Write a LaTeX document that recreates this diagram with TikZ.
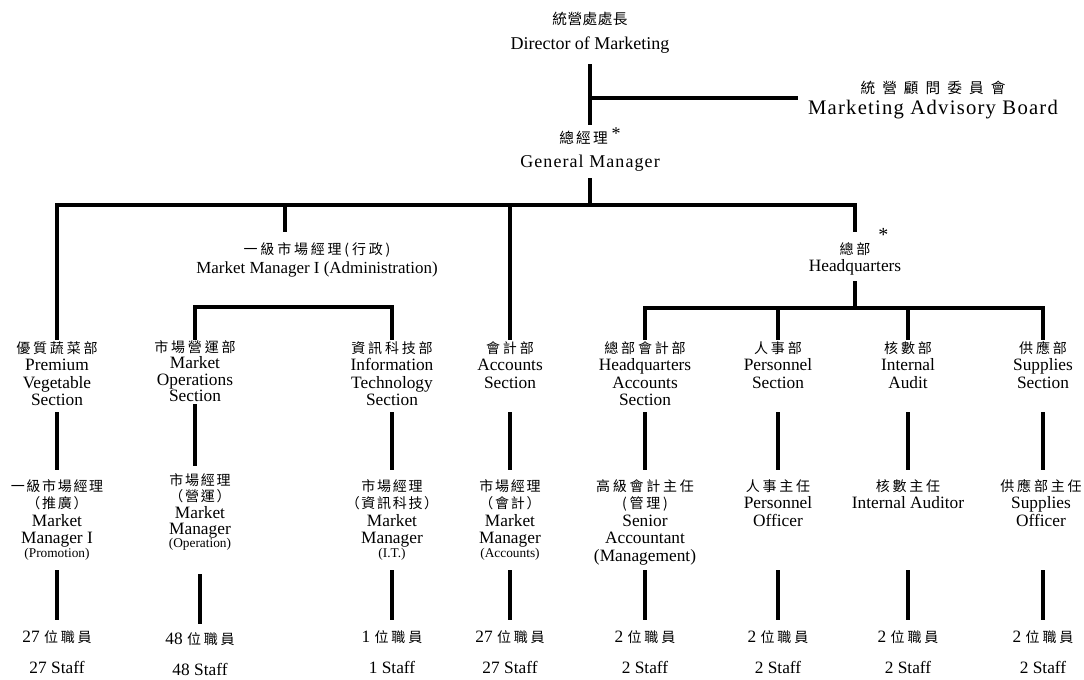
\documentclass[tikz,border=0pt]{standalone}
\usepackage{fontspec}
\setmainfont{Liberation Serif}
\newfontfamily\serifwide[LetterSpace=6]{Liberation Serif}
\newfontfamily\serifgm[LetterSpace=6]{Liberation Serif}
\newfontfamily\cjkA[LetterSpace=3]{Noto Sans CJK TC}
\newfontfamily\cjkB[LetterSpace=48]{Noto Sans CJK TC}
\newfontfamily\cjkG[LetterSpace=15]{Noto Sans CJK TC}
\newfontfamily\cjkC[LetterSpace=20]{Noto Sans CJK TC}
\newfontfamily\cjkD[LetterSpace=12]{Noto Sans CJK TC}
\newcommand\zhA[1]{{\cjkA\fontsize{11}{13}\selectfont #1}}
\newcommand\zhB[1]{{\cjkB\fontsize{11}{13}\selectfont #1}}
\newcommand\zhG[1]{{\cjkG\fontsize{11}{13}\selectfont #1}}
\newcommand\zhC[1]{{\cjkC\fontsize{10.5}{13}\selectfont #1}}
\newcommand\zhD[1]{{\cjkD\fontsize{10.5}{13}\selectfont #1}}
\newcommand\smallpar[1]{{\fontsize{10}{10}\selectfont #1}}
\usetikzlibrary{calc}
\begin{document}
\begin{tikzpicture}[x=0.75pt,y=-0.75pt,
  conn/.style={line width=2.4pt},
  box/.style={inner sep=0pt,align=center,anchor=north},
  toplbl/.style={box,font=\fontsize{13.5}{18.3}\selectfont},
  sect/.style={box,font=\fontsize{13}{13.2}\selectfont},
  sectn/.style={box,font=\fontsize{13}{12.4}\selectfont},
  staff/.style={box,font=\fontsize{13}{23.6}\selectfont}]
\useasboundingbox (0,0) rectangle (1084,679);

% top level
\node[toplbl] (dir) at (590,12) {\zhA{統營處處長}\\Director of Marketing};
\node[box,font=\fontsize{15.5}{15.3}\selectfont] (adv) at (933,81)
  {\zhB{統營顧問委員會}\\{\serifwide Marketing Advisory Board}};
\node[toplbl] (gm) at (590,127) {\zhG{總經理}\hspace{3pt}\raisebox{3pt}{*}\\{\serifgm General Manager}};

% second level
\node[box,font=\fontsize{12.7}{14.3}\selectfont] (mm1) at (317,242)
  {\zhC{一級市場經理(行政)}\\Market Manager I (Administration)};
\node[box,font=\fontsize{13}{13}\selectfont] (hq) at (855,242)
  {\zhC{總部}\rlap{\hspace{6pt}\smash{\raisebox{9.5pt}{\fontsize{15}{15}\selectfont *}}}\\Headquarters};

% sections
\node[sect]  (pvs) at (57,341)  {\zhC{優質蔬菜部}\\Premium\\Vegetable\\Section};
\node[sectn] (mos) at (195,340) {\zhC{市場營運部}\\Market\\Operations\\Section};
\node[sect]  (its) at (392,341) {\zhC{資訊科技部}\\Information\\Technology\\Section};
\node[sect]  (acc) at (510,341) {\zhC{會計部}\\Accounts\\Section};
\node[sect]  (hqa) at (645,341) {\zhC{總部會計部}\\Headquarters\\Accounts\\Section};
\node[sect]  (per) at (778,341) {\zhC{人事部}\\Personnel\\Section};
\node[sect]  (ia)  at (908,341) {\zhC{核數部}\\Internal\\Audit};
\node[sect]  (sup) at (1043,341) {\zhC{供應部}\\Supplies\\Section};

% managers
\node[sect]  (m1) at (57,479)  {\zhD{一級市場經理}\\\zhD{（推廣）}\\Market\\Manager I\\[-3pt]\smallpar{(Promotion)}};
\node[sectn] (m2) at (200,473) {\zhD{市場經理}\\\zhD{（營運）}\\Market\\Manager\\[-2.5pt]\smallpar{(Operation)}};
\node[sect]  (m3) at (392,479) {\zhD{市場經理}\\\zhD{（資訊科技）}\\Market\\Manager\\[-3pt]\smallpar{(I.T.)}};
\node[sect]  (m4) at (510,479) {\zhD{市場經理}\\\zhD{（會計）}\\Market\\Manager\\[-3pt]\smallpar{(Accounts)}};
\node[sect]  (m5) at (645,479) {\zhC{高級會計主任}\\\zhC{(管理)}\\Senior\\Accountant\\(Management)};
\node[sect]  (m6) at (778,479) {\zhC{人事主任}\\Personnel\\Officer};
\node[sect]  (m7) at (908,479) {\zhC{核數主任}\\Internal Auditor};
\node[sect]  (m8) at (1041,479) {\zhC{供應部主任}\\Supplies\\Officer};

% staff
\node[staff] (s1) at (57,630)  {27 \zhC{位職員}\\27 Staff};
\node[staff] (s2) at (200,632) {48 \zhC{位職員}\\48 Staff};
\node[staff] (s3) at (392,630) {1 \zhC{位職員}\\1 Staff};
\node[staff] (s4) at (510,630) {27 \zhC{位職員}\\27 Staff};
\node[staff] (s5) at (645,630) {2 \zhC{位職員}\\2 Staff};
\node[staff] (s6) at (778,630) {2 \zhC{位職員}\\2 Staff};
\node[staff] (s7) at (908,630) {2 \zhC{位職員}\\2 Staff};
\node[staff] (s8) at (1043,630) {2 \zhC{位職員}\\2 Staff};

% connectors: top
\draw[conn] (dir.south |- 0,64) -- (gm.north |- 0,125);
\draw[conn] (dir.south |- 0,98) -- ([xshift=-7pt]adv.west |- 0,98);
\draw[conn] (gm.south |- 0,178) -- (gm.south |- 0,205);
\draw[conn] (pvs.north |- 0,340) -- (pvs.north |- 0,205) -- (hq.north |- 0,205) -- (hq.north |- 0,232);
\draw[conn] ([xshift=-24pt]mm1.north |- 0,205) -- ([xshift=-24pt]mm1.north |- 0,232);
\draw[conn] (acc.north |- 0,205) -- (acc.north |- 0,340);
% market manager I sub bar
\draw[conn] (mos.north |- 0,340) -- (mos.north |- 0,307) -- (its.north |- 0,307) -- (its.north |- 0,340);
% headquarters bar
\draw[conn] (hq.south |- 0,281) -- (hq.south |- 0,308);
\draw[conn] (hqa.north |- 0,340) -- (hqa.north |- 0,308) -- (sup.north |- 0,308) -- (sup.north |- 0,340);
\draw[conn] (per.north |- 0,308) -- (per.north |- 0,340);
\draw[conn] (ia.north |- 0,308) -- (ia.north |- 0,340);

% sections to managers
\draw[conn] (pvs.south |- 0,412) -- (pvs.south |- 0,470);
\draw[conn] (mos.south |- 0,404) -- (mos.south |- 0,466);
\draw[conn] (its.south |- 0,412) -- (its.south |- 0,470);
\draw[conn] (acc.south |- 0,412) -- (acc.south |- 0,470);
\draw[conn] (hqa.south |- 0,412) -- (hqa.south |- 0,470);
\draw[conn] (per.south |- 0,412) -- (per.south |- 0,470);
\draw[conn] (ia.south |- 0,412) -- (ia.south |- 0,470);
\draw[conn] (sup.south |- 0,412) -- (sup.south |- 0,470);

% managers to staff
\draw[conn] (m1.south |- 0,570) -- (s1.north |- 0,620);
\draw[conn] (s2.north |- 0,574) -- (s2.north |- 0,624);
\draw[conn] (m3.south |- 0,570) -- (s3.north |- 0,620);
\draw[conn] (m4.south |- 0,570) -- (s4.north |- 0,620);
\draw[conn] (m5.south |- 0,570) -- (s5.north |- 0,620);
\draw[conn] (m6.south |- 0,570) -- (s6.north |- 0,620);
\draw[conn] (m7.south |- 0,570) -- (s7.north |- 0,620);
\draw[conn] (s8.north |- 0,570) -- (s8.north |- 0,620);
\end{tikzpicture}
\end{document}
